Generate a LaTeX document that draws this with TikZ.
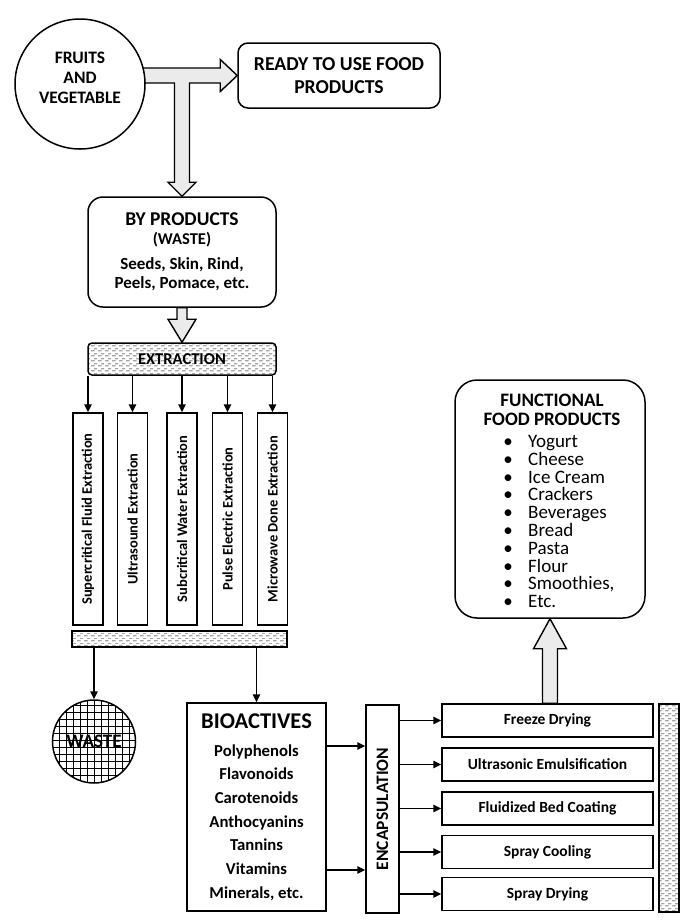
\documentclass[tikz,border=0pt]{standalone}
\usepackage{fontspec}
\setmainfont{Carlito}
\usepackage{graphicx}
\usetikzlibrary{calc,arrows.meta,patterns.meta,backgrounds}

\tikzdeclarepattern{
  name=dashrows,
  type=uncolored,
  bottom left={(0pt,0pt)},
  top right={(7pt,5pt)},
  tile size={(7pt,5pt)},
  code={
    \tikzset{x=1pt,y=1pt}
    \draw[line width=0.55pt] (0,1.25) -- (4,1.25) (3.5,3.75) -- (7,3.75);
  }
}
% from, tip, shaft half width, head half width, signed head length
\newcommand{\hollowarrow}[5]{%
  \path[hollow] let \p1=(#1), \p2=(#2) in
    (\x2-#3,\y1) -- (\x2-#3,\y2+#5) -- (\x2-#4,\y2+#5) -- (\x2,\y2)
    -- (\x2+#4,\y2+#5) -- (\x2+#3,\y2+#5) -- (\x2+#3,\y1) -- cycle;}
\newcommand{\fitem}{\makebox[20pt][c]{\textbullet}\hspace{10pt}}

\begin{document}
\begin{tikzpicture}[x=1pt,y=-1pt,
  box/.style={draw, line width=1.5pt, inner sep=2pt, align=center,
    font=\bfseries\fontsize{15}{18}\selectfont},
  hollow/.style={draw, fill=black!8, line width=1.4pt},
  arr/.style={line width=1.5pt, -{Triangle[length=8pt,width=7.5pt]}},
  vbox/.style={box, minimum width=30, minimum height=212, inner sep=0pt,
    font=\bfseries\fontsize{14.5}{16}\selectfont},
  method/.style={box, minimum width=211, minimum height=33,
    font=\bfseries\fontsize{15.5}{17}\selectfont},
]
\useasboundingbox (0,0) rectangle (685,922);

%%%%% top %%%%%
\node[draw, circle, line width=1.5pt, fill=white, minimum size=130] (fruits) at (80,84) {};
\node[font=\bfseries\fontsize{17.5}{20}\selectfont, align=center] (fruitstext) at (80,78) {FRUITS\\AND\\VEGETABLE};
\node[box, rounded corners=10, minimum width=202, minimum height=65,
  font=\bfseries\fontsize{19.7}{23}\selectfont] (ready) at (339,75.5) {READY TO USE FOOD\\PRODUCTS};
\node[box, rounded corners=15, minimum width=188, minimum height=110,
  font=\bfseries\fontsize{17}{19}\selectfont] (byprod) at (182,252)
  {{\fontsize{19.5}{20}\selectfont BY PRODUCTS}\\{\fontsize{16.5}{19}\selectfont (WASTE)}\\[6pt]Seeds, Skin, Rind,\\Peels, Pomace, etc.};

\begin{scope}[on background layer]
\path[hollow] let \p1=(ready.west), \p2=(byprod.north), \p3=(fruits.center) in
  (\x3,\y1+7.5pt) -- (\x1-17pt,\y1+7.5pt) -- (\x1-17pt,\y1+16pt) -- (\x1,\y1)
  -- (\x1-17pt,\y1-16pt) -- (\x1-17pt,\y1-7.5pt) -- (\x2+7.5pt,\y1-7.5pt)
  -- (\x2+7.5pt,\y2+14pt) -- (\x2+14pt,\y2+14pt) -- (\x2,\y2) -- (\x2-14pt,\y2+14pt)
  -- (\x2-7.5pt,\y2+14pt) -- (\x2-7.5pt,\y1-7.5pt) -- (\x3,\y1-7.5pt) -- cycle;
\end{scope}

%%%%% extraction %%%%%
\node[box, rounded corners=4, pattern=dashrows, minimum width=188, minimum height=32,
  font=\bfseries\fontsize{16.5}{18}\selectfont] (extr) at (182,359) {EXTRACTION};
\hollowarrow{byprod.south}{extr.north}{5pt}{14pt}{23pt}

\foreach \x/\t [count=\i] in {88/Supercritical Fluid Extraction, 132.5/Ultrasound Extraction,
    182/Subcritical Water Extraction, 227.5/Pulse Electric Extraction, 272.5/Microwave Done Extraction}
  \node[vbox] (m\i) at (\x,519) {\rotatebox{90}{\t}};
\foreach \i in {1,...,5}
  \draw[arr] (extr.south -| m\i.north) -- (m\i.north);

\node[box, pattern=dashrows, minimum width=215, minimum height=16] (collect) at (179.5,639) {};

%%%%% waste and bioactives %%%%%
\node[box, circle, minimum size=83, font=\bfseries\fontsize{19}{20}\selectfont,
  path picture={\draw[line width=0.8pt] (path picture bounding box.south west) grid[step=7pt] (path picture bounding box.north east);}]
  (waste) at (94,741.5) {WASTE};
\node[box, minimum width=139, minimum height=208, font=\bfseries\fontsize{16.7}{23.7}\selectfont] (bio) at (256.5,807)
  {{\fontsize{22.5}{24}\selectfont BIOACTIVES}\\[4pt]Polyphenols\\Flavonoids\\Carotenoids\\Anthocyanins\\Tannins\\Vitamins\\Minerals, etc.};
\draw[arr] (waste |- collect.south) -- (waste.north);
\draw[arr] (bio |- collect.south) -- (bio.north);

%%%%% encapsulation %%%%%
\node[box, minimum width=33, minimum height=208, inner sep=0pt,
  font=\bfseries\fontsize{17.5}{18}\selectfont] (encap) at (382.5,809) {\rotatebox{90}{ENCAPSULATION}};
\draw[arr] ([yshift=61pt]bio.east) -- ([yshift=61pt]bio.east -| encap.west);
\draw[arr] ([yshift=-63pt]bio.east) -- ([yshift=-63pt]bio.east -| encap.west);

\foreach \y/\t [count=\i] in {720.5/Freeze Drying, 764.5/Ultrasonic Emulsification,
    808.5/Fluidized Bed Coating, 852/Spray Cooling, 894/Spray Drying}
{
  \node[method] (e\i) at (547.5,\y) {\t};
  \draw[arr] (encap.east |- e\i.west) -- (e\i.west);
}
\node[box, pattern=dashrows, minimum width=20, minimum height=208] (side) at (669,808) {};

%%%%% functional food %%%%%
\node[box, rounded corners=22, minimum width=190, minimum height=238] (func) at (550,499) {};
\node[font=\bfseries\fontsize{19}{19.5}\selectfont, align=center] (functitle) at (552,410) {FUNCTIONAL\\FOOD PRODUCTS};
\node[anchor=north west, align=left, inner sep=0pt, font=\fontsize{19}{17.8}\selectfont] (funclist) at (498,435)
  {\fitem Yogurt\\\fitem Cheese\\\fitem Ice Cream\\\fitem Crackers\\\fitem Beverages\\
   \fitem Bread\\\fitem Pasta\\\fitem Flour\\\fitem Smoothies,\\\fitem Etc.};
\hollowarrow{e1.north}{func.south}{7.5pt}{16.5pt}{-30pt}
\end{tikzpicture}
\end{document}
